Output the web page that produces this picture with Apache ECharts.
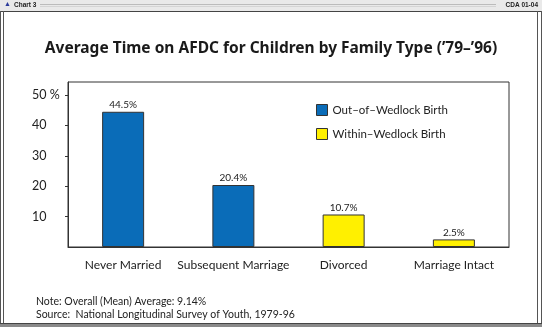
<!DOCTYPE html>
<html>
<head>
<meta charset="utf-8">
<script src="https://cdn.jsdelivr.net/npm/echarts@6/dist/echarts.min.js"></script>
<style>html,body{margin:0;padding:0;background:#fff}#c{width:542px;height:327px}</style>
</head>
<body>
<div id="c"></div>
<script>
const categories = ['Never Married', 'Subsequent Marriage', 'Divorced', 'Marriage Intact'];
const outOfWedlock = [44.5, 20.4, '-', '-'];
const withinWedlock = ['-', '-', 10.7, 2.5];
const yTicks = [10, 20, 30, 40, 50];
const seriesNames = ['Out\u2013of\u2013Wedlock Birth', 'Within\u2013Wedlock Birth'];
const titleText = 'Average Time on AFDC for Children by Family Type (\u201979\u2013\u201996)';
const noteText = 'Note: Overall (Mean) Average: 9.14%';
const sourceText = 'Source:  National Longitudinal Survey of Youth, 1979-96';

const FONT = 'Lato';
const chart = echarts.init(document.getElementById('c'), null, {renderer: 'canvas'});
const barLabel = {show: true, position: 'top', distance: 2, fontFamily: FONT, fontSize: 10, color: '#222', formatter: p => p.value + '%'};
chart.setOption({
  animation: false,
  backgroundColor: '#fff',
  title: {text: titleText, left: 'center', top: 41, padding: 0, textStyle: {fontFamily: 'Noto Sans', fontWeight: 'bold', fontSize: 15.5, color: '#1a1a1a'}},
  legend: {
    orient: 'vertical', left: 316, top: 104, padding: 0, itemWidth: 11, itemHeight: 11, itemGap: 12, icon: 'rect',
    textStyle: {fontFamily: FONT, fontSize: 11.5, color: '#222'},
    data: seriesNames.map(n => ({name: n, itemStyle: {borderColor: '#333', borderWidth: 1}}))
  },
  grid: {left: 68, top: 82, right: 33, bottom: 80, show: true, borderColor: '#333', borderWidth: 1},
  xAxis: {
    type: 'category', data: categories,
    axisLine: {lineStyle: {color: '#333'}}, axisTick: {show: false},
    axisLabel: {fontFamily: FONT, fontSize: 12, color: '#222', margin: 12, interval: 0}
  },
  yAxis: {
    type: 'value', min: 0, max: 54.3, interval: 10,
    splitLine: {show: false},
    axisLine: {show: true, lineStyle: {color: '#333'}},
    axisTick: {show: true, length: 3, customValues: yTicks, lineStyle: {color: '#333'}},
    axisLabel: {customValues: yTicks, align: 'left', margin: 36, fontFamily: FONT, fontSize: 12.5, color: '#222',
      formatter: v => v === 50 ? '50 %' : String(v)}
  },
  series: [
    {name: seriesNames[0], type: 'bar', stack: 's', barWidth: 42, data: outOfWedlock,
     itemStyle: {color: '#0a6cb8', borderColor: '#333', borderWidth: 1}, label: barLabel},
    {name: seriesNames[1], type: 'bar', stack: 's', barWidth: 42, data: withinWedlock,
     itemStyle: {color: '#fff000', borderColor: '#333', borderWidth: 1}, label: barLabel}
  ],
  graphic: [
    {type: 'rect', shape: {x: 0, y: 0, width: 542, height: 11}, style: {fill: '#e9e9e9'}, silent: true},
    {type: 'line', shape: {x1: 40, y1: 4.5, x2: 496, y2: 4.5}, style: {stroke: '#bbb', lineWidth: 1}},
    {type: 'line', shape: {x1: 40, y1: 6.5, x2: 496, y2: 6.5}, style: {stroke: '#d4d4d4', lineWidth: 1}},
    {type: 'text', left: 4, top: 1, style: {text: '\u25B2', fontSize: 7, fill: '#2a3a9a'}},
    {type: 'text', left: 14, top: 2, style: {text: 'Chart 3', fontFamily: 'Liberation Sans', fontWeight: 'bold', fontSize: 6.5, fill: '#222'}},
    {type: 'text', right: 4, top: 2, style: {text: 'CDA 01-04', fontFamily: 'Liberation Sans', fontWeight: 'bold', fontSize: 6.5, fill: '#222'}},
    {type: 'line', shape: {x1: 0, y1: 11.5, x2: 542, y2: 11.5}, style: {stroke: '#444', lineWidth: 1}},
    {type: 'line', shape: {x1: 0.5, y1: 11, x2: 0.5, y2: 327}, style: {stroke: '#555', lineWidth: 1}},
    {type: 'line', shape: {x1: 3.5, y1: 11, x2: 3.5, y2: 323}, style: {stroke: '#555', lineWidth: 1}},
    {type: 'line', shape: {x1: 537.5, y1: 11, x2: 537.5, y2: 323}, style: {stroke: '#555', lineWidth: 1}},
    {type: 'line', shape: {x1: 541.5, y1: 11, x2: 541.5, y2: 327}, style: {stroke: '#555', lineWidth: 1}},
    {type: 'rect', shape: {x: 0, y: 323, width: 542, height: 4}, style: {fill: '#8a8a8a'}},
    {type: 'line', shape: {x1: 0, y1: 323.5, x2: 542, y2: 323.5}, style: {stroke: '#444', lineWidth: 1}},
    {type: 'text', left: 36, top: 296, style: {text: noteText, fontFamily: FONT, fontSize: 10.5, fill: '#222'}},
    {type: 'text', left: 36, top: 309, style: {text: sourceText, fontFamily: FONT, fontSize: 10.5, fill: '#222'}}
  ]
});
</script>
</body>
</html>
